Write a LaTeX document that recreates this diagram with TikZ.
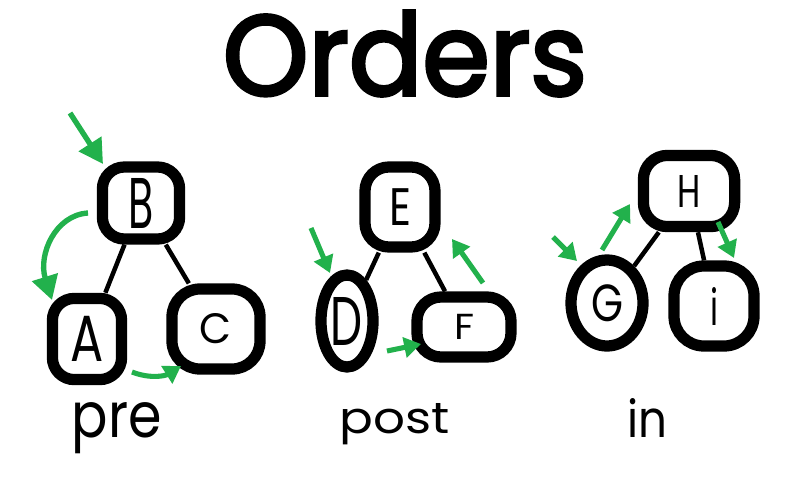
\documentclass[tikz,border=0pt]{standalone}
\usepackage{fontspec}
\setmainfont{Poppins}
\newfontfamily\titlefont[FakeBold=3.2]{Poppins}
\usepackage{graphicx}
\usetikzlibrary{arrows.meta,shapes.geometric}
\definecolor{paintgreen}{RGB}{34,177,76}
\newcommand\hwtext[3]{\resizebox{#1}{#2}{#3}}
\begin{document}
\begin{tikzpicture}[x=0.025cm,y=-0.025cm,
  tnode/.style={draw=black,line width=8pt,rounded corners=0.55cm,fill=white,inner sep=0pt},
  enode/.style={ellipse,draw=black,line width=8pt,fill=white,inner sep=0pt},
  tedge/.style={draw=black,line width=3.2pt},
  garrow/.style={draw=paintgreen,line width=3.6pt,-{Triangle[length=0.42cm,width=0.5cm]}},
  bigarrow/.style={draw=paintgreen,line width=3.8pt,-{Triangle[length=0.6cm,width=0.65cm]}},
  lbl/.style={inner sep=0pt,anchor=base}]
\useasboundingbox[fill=white] (0,0) rectangle (800,480);

% title
\node[lbl,font=\titlefont] (title) at (405,95) {\hwtext{9.1cm}{2.1cm}{Orders}};

% pre tree
\node[tnode,minimum width=1.93cm,minimum height=1.8cm] (B) at (141,203) {\hwtext{0.63cm}{1.25cm}{B}};
\node[tnode,minimum width=1.73cm,minimum height=2.03cm] (A) at (87,339) {\hwtext{0.83cm}{1.13cm}{A}};
\node[tnode,minimum width=2.2cm,minimum height=2.0cm,rounded corners=0.7cm] (C) at (216,329) {\hwtext{0.8cm}{0.75cm}{C}};
\draw[tedge] (B) -- (A);
\draw[tedge] (B) -- (C);

% post tree
\node[tnode,minimum width=1.75cm,minimum height=2.0cm,rounded corners=0.6cm] (E) at (400,207) {\hwtext{0.55cm}{0.92cm}{E}};
\node[enode,minimum width=1.3cm,minimum height=2.3cm] (D) at (347,321) {\hwtext{0.8cm}{1.2cm}{D}};
\node[tnode,minimum width=2.35cm,minimum height=1.5cm,rounded corners=0.6cm] (F) at (464,327) {\hwtext{0.5cm}{0.63cm}{F}};
\draw[tedge] (E) -- (D);
\draw[tedge] (E) -- (F);

% in tree
\node[tnode,minimum width=2.28cm,minimum height=1.78cm,rounded corners=0.6cm] (H) at (689,191) {\hwtext{0.58cm}{0.8cm}{H}};
\node[enode,minimum width=1.8cm,minimum height=2.15cm] (G) at (607,303) {\hwtext{0.8cm}{0.92cm}{G}};
\node[tnode,minimum width=2.0cm,minimum height=2.0cm,rounded corners=0.75cm] (I) at (714,306) {\hwtext{0.2cm}{0.95cm}{i}};
\draw[tedge] (H) -- (G);
\draw[tedge] (H) -- (I);

% labels
\node[lbl] (pre) at (117,437) {\hwtext{2.25cm}{0.875cm}{pre}};
\node[lbl] (post) at (395,433) {\hwtext{2.75cm}{0.75cm}{post}};
\node[lbl] (in) at (647,437) {\hwtext{1.0cm}{0.975cm}{in}};

% green arrows: pre
\coordinate (p1s) at (70,113);
\coordinate (p1e) at (103,164);
\coordinate (p2s) at (88,213);
\coordinate (p2e) at (52,300);
\coordinate (p3s) at (132,372);
\coordinate (p3e) at (181,366);
\draw[bigarrow] (p1s) -- (p1e);
\draw[bigarrow] (p2s) .. controls (55,215) and (38,255) .. (p2e);
\draw[garrow] (p3s) .. controls (150,379) and (165,376) .. (p3e);

% green arrows: post
\coordinate (q1s) at (311,228);
\coordinate (q1e) at (330,273);
\coordinate (q2s) at (387,351);
\coordinate (q2e) at (421,344);
\coordinate (q3s) at (483,283);
\coordinate (q3e) at (452,239);
\draw[garrow] (q1s) -- (q1e);
\draw[garrow] (q2s) -- (q2e);
\draw[garrow] (q3s) -- (q3e);

% green arrows: in
\coordinate (r1s) at (553,237);
\coordinate (r1e) at (577,261);
\coordinate (r2s) at (602,250);
\coordinate (r2e) at (630,204);
\coordinate (r3s) at (718,222);
\coordinate (r3e) at (734,258);
\draw[garrow] (r1s) -- (r1e);
\draw[garrow] (r2s) -- (r2e);
\draw[garrow] (r3s) -- (r3e);
\end{tikzpicture}
\end{document}
